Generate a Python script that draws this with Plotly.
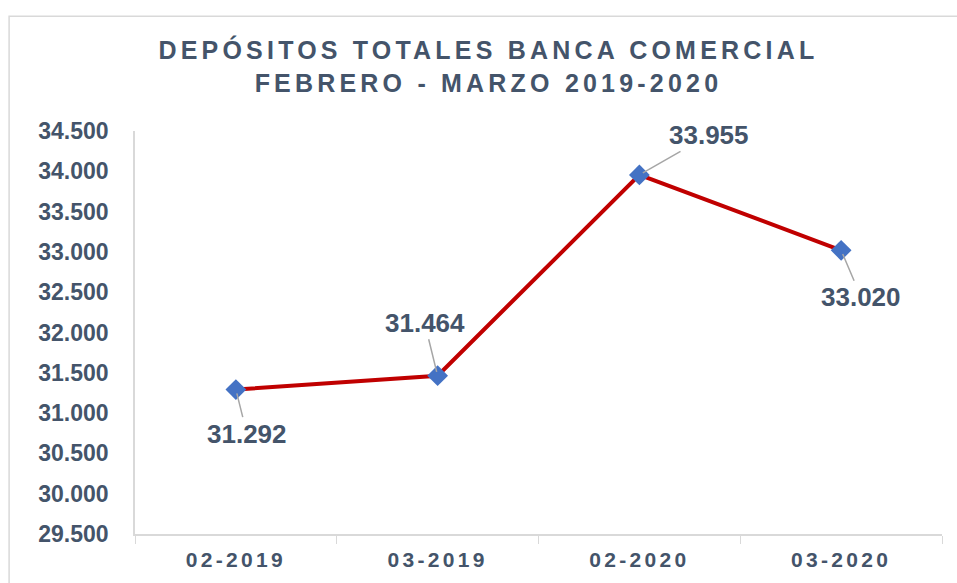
import plotly.graph_objects as go

categories = ["02-2019", "03-2019", "02-2020", "03-2020"]
deposits = [31292, 31464, 33955, 33020]
y_ticks = [29500, 30000, 30500, 31000, 31500, 32000, 32500, 33000, 33500, 34000, 34500]
label_offsets = [(11, 44), (-13, -53), (70, -40), (20, 47)]

TXT = "#44546A"
ARIAL = "Liberation Sans, Arial, sans-serif"

def fmt(v):
    return f"{v:,.0f}".replace(",", ".")

fig = go.Figure()
fig.add_trace(go.Scatter(
    x=categories, y=deposits, mode="lines+markers",
    line=dict(color="#C00000", width=4),
    marker=dict(symbol="diamond", size=16, color="#4472C4"),
    hoverinfo="skip", showlegend=False,
))

for c, v, (ax, ay) in zip(categories, deposits, label_offsets):
    fig.add_annotation(
        x=c, y=v, text=f"<b>{fmt(v)}</b>", showarrow=True, arrowhead=0,
        arrowwidth=1.5, arrowcolor="#A6A6A6", ax=ax, ay=ay, standoff=4,
        font=dict(family=ARIAL, size=26, color=TXT),
    )

def spaced(t, s):
    return f"<span style='letter-spacing:{s}px'><b>{t}</b></span>"

fig.update_layout(
    width=957, height=583,
    margin=dict(l=135, r=15, t=131, b=45),
    paper_bgcolor="white", plot_bgcolor="white",
    separators=",.",
    title=dict(
        text=spaced("DEPÓSITOS TOTALES BANCA COMERCIAL", 4.2) + "<br>" + spaced("FEBRERO - MARZO 2019-2020", 4.2),
        x=0.5104, xanchor="center", y=0.898, yanchor="middle",
        font=dict(family=ARIAL, size=25, color=TXT),
    ),
    xaxis=dict(
        type="category", tickvals=categories,
        ticktext=[spaced(c, 3.3) for c in categories],
        tickfont=dict(family=ARIAL, size=21, color=TXT),
        showgrid=False, showline=True, linecolor="#D9D9D9", linewidth=1.5,
        ticks="outside", tickson="boundaries", ticklen=8, tickcolor="#D9D9D9",
        range=[-0.5, 3.5], ticklabelstandoff=6,
    ),
    yaxis=dict(
        range=[29500, 34500], tickvals=y_ticks,
        ticktext=[f"<b>{fmt(t)}</b>" for t in y_ticks],
        tickfont=dict(family=ARIAL, size=23, color=TXT),
        showgrid=False, zeroline=False, showline=True, linecolor="#D9D9D9",
        linewidth=1.5, ticks="", ticklabelstandoff=20,
    ),
    shapes=[dict(type="rect", xref="paper", yref="paper",
                 x0=-0.156, x1=1.03, y0=-0.3, y1=1.285,
                 line=dict(color="#D9D9D9", width=1.5), fillcolor="rgba(0,0,0,0)", layer="below")],
)

fig.write_html("out.html", config={"displayModeBar": False},
               post_script="document.body.style.margin='0px';")
